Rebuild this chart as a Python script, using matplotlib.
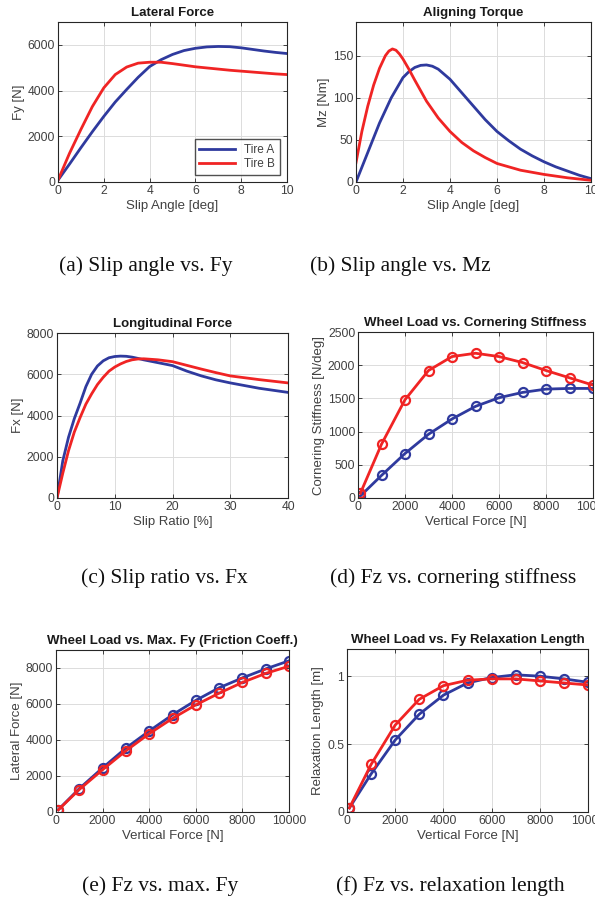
# tire model comparison, 6 panels with captions

import matplotlib
matplotlib.use("Agg")
import matplotlib.pyplot as plt
import numpy as np

# (a) lateral force
alpha_a = [0, 0.5, 1, 1.5, 2, 2.5, 3, 3.5, 4, 4.5, 5, 5.5, 6, 6.5, 7, 7.5, 8, 8.5, 9, 9.5, 10]
fy_A = [80, 780, 1500, 2200, 2870, 3500, 4050, 4580, 5050, 5350, 5580, 5750, 5850, 5910, 5930,
        5920, 5870, 5800, 5730, 5670, 5620]
fy_B = [80, 1250, 2300, 3300, 4120, 4700, 5030, 5200, 5240, 5240, 5180, 5110, 5040, 4990, 4940,
        4890, 4850, 4810, 4770, 4730, 4700]

# (b) aligning torque
alpha_bA = [0, 0.5, 1, 1.5, 2, 2.25, 2.5, 2.75, 3, 3.25, 3.5, 4, 4.5, 5, 5.5, 6, 6.5, 7, 7.5, 8,
            8.5, 9, 9.5, 10]
mz_A = [0, 35, 70, 100, 124, 131, 136, 138.5, 139, 137.5, 134, 122, 106, 90, 74, 60, 49, 39, 31,
        24, 18, 13, 8, 4]
alpha_bB = [0, 0.25, 0.5, 0.75, 1, 1.25, 1.4, 1.55, 1.7, 1.85, 2, 2.25, 2.5, 3, 3.5, 4, 4.5, 5,
            5.5, 6, 7, 8, 9, 10]
mz_B = [23, 60, 90, 115, 135, 150, 155.5, 158, 156.5, 152, 146, 134, 121, 96, 76, 60, 47, 37,
        29, 22, 14, 9, 5, 2]

# (c) longitudinal force
slip = [0, 1, 2, 3, 4, 5, 6, 7, 8, 9, 10, 11, 12, 13, 14, 15, 17.5, 20, 22.5, 25, 27.5, 30, 35, 40]
fx_A = [0, 1800, 2950, 3850, 4600, 5400, 6000, 6400, 6650, 6800, 6860, 6880, 6870, 6830, 6770,
        6700, 6560, 6420, 6150, 5920, 5730, 5580, 5320, 5120]
fx_B = [0, 1200, 2300, 3200, 3900, 4550, 5050, 5500, 5850, 6150, 6350, 6500, 6620, 6700, 6740,
        6750, 6700, 6610, 6430, 6250, 6080, 5920, 5740, 5580]

# (d)-(f) wheel load sweeps
fz = [100, 1000, 2000, 3000, 4000, 5000, 6000, 7000, 8000, 9000, 10000]
cs_A = [30, 340, 670, 960, 1190, 1380, 1510, 1590, 1640, 1650, 1650]
cs_B = [70, 810, 1480, 1920, 2130, 2180, 2130, 2040, 1920, 1810, 1700]
fymax_A = [130, 1300, 2450, 3550, 4500, 5400, 6200, 6900, 7450, 7950, 8400]
fymax_B = [120, 1250, 2350, 3400, 4350, 5200, 5950, 6600, 7200, 7700, 8100]
relax_A = [0.03, 0.28, 0.53, 0.72, 0.86, 0.95, 0.99, 1.01, 1.00, 0.98, 0.955]
relax_B = [0.03, 0.35, 0.64, 0.83, 0.93, 0.97, 0.98, 0.98, 0.965, 0.95, 0.935]

BLUE = '#2f3a9e'
RED = '#f02424'
TXT = '#404040'

plt.rcParams['font.family'] = ['Liberation Sans', 'DejaVu Sans']

fig = plt.figure(figsize=(5.95, 9.02), dpi=100)


def make_ax(rect, title, xlabel, ylabel, xlim, ylim, xticks, yticks):
    ax = fig.add_axes(rect)
    ax.set_xlim(xlim)
    ax.set_ylim(ylim)
    ax.set_xticks(xticks)
    ax.set_yticks(yticks)
    ax.set_title(title, fontsize=9.5, fontweight='bold', color='#1a1a1a', pad=4)
    ax.set_xlabel(xlabel, fontsize=9.5, color=TXT, labelpad=2)
    ax.set_ylabel(ylabel, fontsize=9.5, color=TXT, labelpad=2)
    ax.grid(True, color='#dcdcdc', lw=0.7)
    ax.set_axisbelow(True)
    ax.tick_params(direction='in', length=3, width=0.6, labelsize=8.7,
                   labelcolor=TXT, colors='#262626', top=True, right=True, pad=2)
    for s in ax.spines.values():
        s.set_color('#262626')
        s.set_linewidth(0.8)
    return ax


# (a)
ax = make_ax([58/595, 1-182/902, 229/595, 160/902], 'Lateral Force', 'Slip Angle [deg]',
             'Fy [N]', (0, 10), (0, 7000), [0, 2, 4, 6, 8, 10], [0, 2000, 4000, 6000])
ax.plot(alpha_a, fy_A, color=BLUE, lw=2, label='Tire A')
ax.plot(alpha_a, fy_B, color=RED, lw=2, label='Tire B')
leg = ax.legend(loc='lower right', fontsize=8.5, handlelength=3.0, fancybox=False,
                edgecolor='#262626', borderaxespad=0.6, labelspacing=0.2)
for t in leg.get_texts():
    t.set_color(TXT)

# (b)
ax = make_ax([356/595, 1-182/902, 235/595, 160/902], 'Aligning Torque', 'Slip Angle [deg]',
             'Mz [Nm]', (0, 10), (0, 190), [0, 2, 4, 6, 8, 10], [0, 50, 100, 150])
ax.plot(alpha_bA, mz_A, color=BLUE, lw=2)
ax.plot(alpha_bB, mz_B, color=RED, lw=2)

# (c)
ax = make_ax([57/595, 1-498/902, 231/595, 165/902], 'Longitudinal Force', 'Slip Ratio [%]',
             'Fx [N]', (0, 40), (0, 8000), [0, 10, 20, 30, 40], [0, 2000, 4000, 6000, 8000])
ax.plot(slip, fx_A, color=BLUE, lw=2)
ax.plot(slip, fx_B, color=RED, lw=2)

mk = dict(marker='o', ms=6.5, mfc='none', mew=1.6, lw=2)
fz_ticks = [0, 2000, 4000, 6000, 8000, 10000]

# (d)
ax = make_ax([358/595, 1-498/902, 235/595, 166/902], 'Wheel Load vs. Cornering Stiffness',
             'Vertical Force [N]', 'Cornering Stiffness [N/deg]', (0, 10000), (0, 2500),
             fz_ticks, [0, 500, 1000, 1500, 2000, 2500])
ax.plot(fz, cs_A, color=BLUE, mec=BLUE, **mk)
ax.plot(fz, cs_B, color=RED, mec=RED, **mk)

# (e)
ax = make_ax([56/595, 1-812/902, 233/595, 162/902], 'Wheel Load vs. Max. Fy (Friction Coeff.)',
             'Vertical Force [N]', 'Lateral Force [N]', (0, 10000), (0, 9000),
             fz_ticks, [0, 2000, 4000, 6000, 8000])
ax.plot(fz, fymax_A, color=BLUE, mec=BLUE, **mk)
ax.plot(fz, fymax_B, color=RED, mec=RED, **mk)

# (f)
ax = make_ax([347/595, 1-812/902, 241/595, 163/902], 'Wheel Load vs. Fy Relaxation Length',
             'Vertical Force [N]', 'Relaxation Length [m]', (0, 10000), (0, 1.2),
             fz_ticks, [0, 0.5, 1])
ax.yaxis.set_major_formatter(matplotlib.ticker.FuncFormatter(lambda v, p: f'{v:g}'))
ax.plot(fz, relax_A, color=BLUE, mec=BLUE, **mk)
ax.plot(fz, relax_B, color=RED, mec=RED, **mk)

# captions
captions = [('(a) Slip angle vs. Fy', 146, 266), ('(b) Slip angle vs. Mz', 400, 266),
            ('(c) Slip ratio vs. Fx', 164, 578), ('(d) Fz vs. cornering stiffness', 453, 578),
            ('(e) Fz vs. max. Fy', 160, 886), ('(f) Fz vs. relaxation length', 450, 886)]
for txt, x, y in captions:
    fig.text(x/595, 1-y/902, txt, ha='center', va='center', fontsize=15.5,
             family='Liberation Serif', color='#111111')

fig.savefig('out.png', dpi=100)
